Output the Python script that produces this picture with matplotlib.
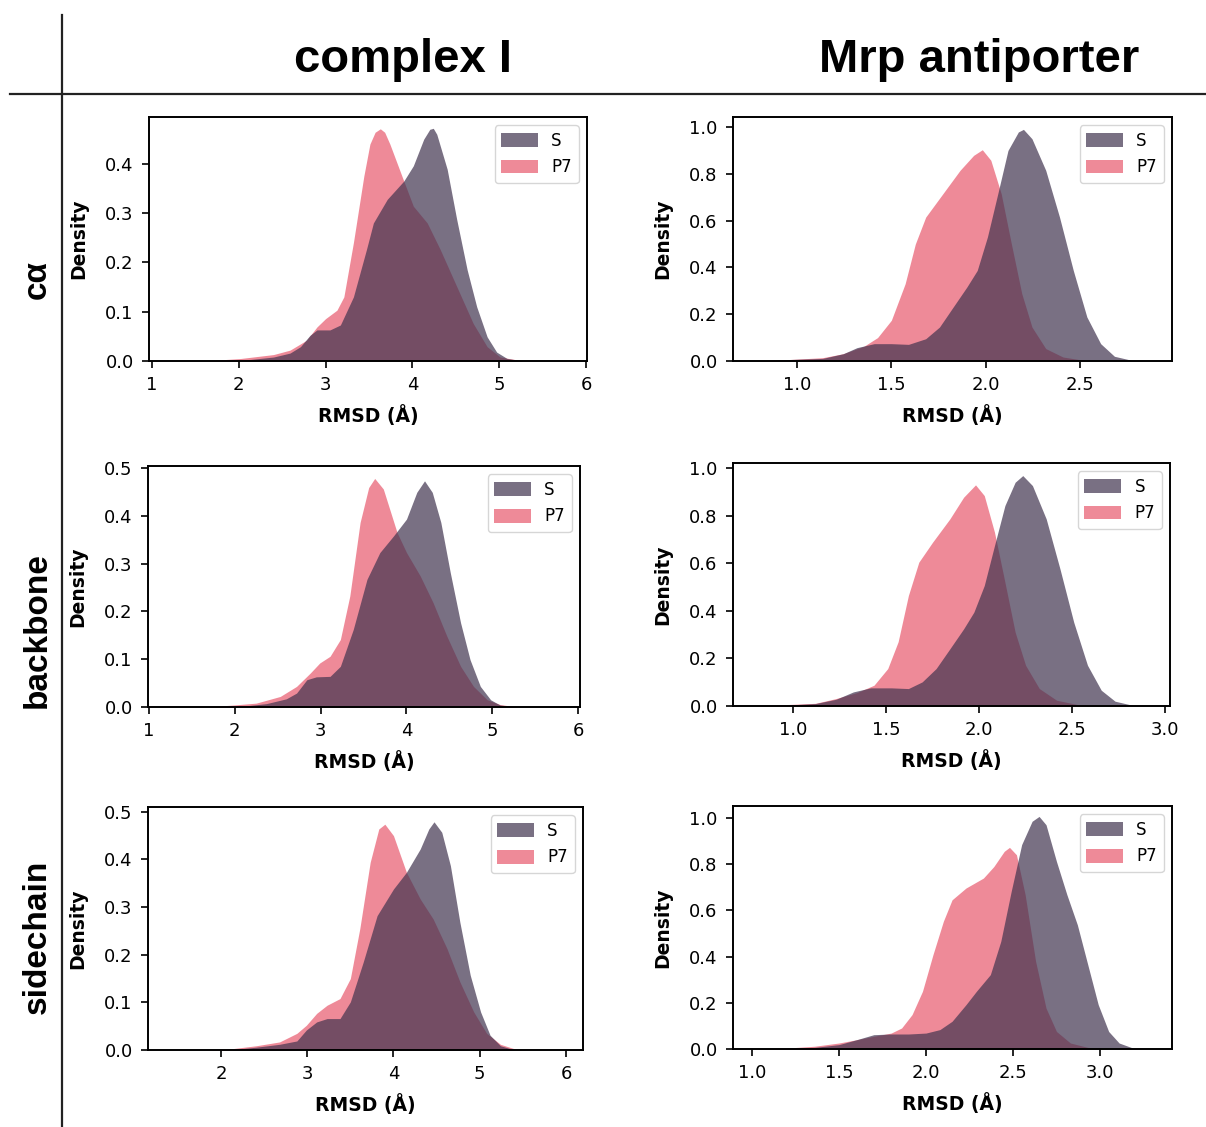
import matplotlib
matplotlib.use("Agg")
import matplotlib.pyplot as plt

# colours of the two states
s_color = '#40334f'
p7_color = '#e8586d'

# ---- complex I, c-alpha ----
ci_ca_p7_x = [1.60, 2.02, 2.40, 2.59, 2.78, 2.90, 3.00, 3.13, 3.21, 3.32, 3.44, 3.51, 3.57, 3.63,
              3.68, 3.74, 3.90, 4.01, 4.17, 4.32, 4.51, 4.70, 4.86, 5.01, 5.28]
ci_ca_p7_y = [0.0, 0.005, 0.013, 0.022, 0.042, 0.069, 0.086, 0.103, 0.13, 0.24, 0.375, 0.44, 0.464, 0.471,
              0.464, 0.44, 0.365, 0.314, 0.28, 0.226, 0.151, 0.076, 0.029, 0.008, 0.0]
ci_ca_s_x = [1.80, 2.02, 2.40, 2.59, 2.71, 2.82, 2.90, 3.05, 3.17, 3.32, 3.47, 3.55, 3.71, 3.90,
             4.01, 4.13, 4.20, 4.24, 4.28, 4.40, 4.51, 4.63, 4.74, 4.86, 4.97, 5.09, 5.28]
ci_ca_s_y = [0.0, 0.001, 0.008, 0.016, 0.029, 0.052, 0.063, 0.063, 0.073, 0.13, 0.226, 0.28, 0.328, 0.365,
             0.396, 0.45, 0.470, 0.472, 0.46, 0.389, 0.287, 0.185, 0.11, 0.049, 0.018, 0.005, 0.0]

# ---- Mrp antiporter, c-alpha ----
mrp_ca_p7_x = [0.77, 0.955, 1.136, 1.245, 1.355, 1.427, 1.50, 1.573, 1.627, 1.682, 1.773, 1.864,
               1.936, 1.982, 2.027, 2.082, 2.136, 2.191, 2.245, 2.318, 2.409, 2.518, 2.70]
mrp_ca_p7_y = [0.0, 0.006, 0.014, 0.031, 0.063, 0.10, 0.174, 0.33, 0.50, 0.615, 0.715, 0.815,
               0.879, 0.903, 0.858, 0.715, 0.50, 0.288, 0.145, 0.053, 0.017, 0.003, 0.0]
mrp_ca_s_x = [0.77, 0.955, 1.136, 1.245, 1.318, 1.409, 1.50, 1.591, 1.682, 1.755, 1.827, 1.90, 1.955,
              2.009, 2.064, 2.118, 2.173, 2.20, 2.245, 2.318, 2.391, 2.464, 2.536, 2.609, 2.682,
              2.773, 2.86]
mrp_ca_s_y = [0.0, 0.006, 0.011, 0.031, 0.057, 0.074, 0.074, 0.071, 0.095, 0.145, 0.23, 0.316, 0.387,
              0.53, 0.715, 0.90, 0.979, 0.99, 0.95, 0.815, 0.615, 0.387, 0.188, 0.074, 0.02,
              0.003, 0.0]

# ---- complex I, backbone ----
ci_bb_p7_x = [1.67, 1.98, 2.25, 2.53, 2.72, 2.88, 2.99, 3.11, 3.23, 3.34, 3.46, 3.56, 3.63, 3.73,
              3.89, 4.00, 4.16, 4.31, 4.47, 4.63, 4.78, 4.94, 5.09, 5.29]
ci_bb_p7_y = [0.0, 0.004, 0.008, 0.022, 0.043, 0.071, 0.092, 0.106, 0.141, 0.232, 0.386, 0.459, 0.478, 0.456,
              0.365, 0.323, 0.274, 0.218, 0.148, 0.085, 0.043, 0.015, 0.005, 0.0]
ci_bb_s_x = [1.80, 2.06, 2.37, 2.60, 2.72, 2.84, 2.95, 3.11, 3.23, 3.38, 3.54, 3.69, 3.85, 4.00,
             4.12, 4.21, 4.30, 4.40, 4.51, 4.63, 4.74, 4.86, 4.98, 5.09, 5.29]
ci_bb_s_y = [0.0, 0.001, 0.007, 0.017, 0.029, 0.057, 0.063, 0.064, 0.085, 0.162, 0.267, 0.323, 0.358, 0.393,
             0.449, 0.473, 0.449, 0.386, 0.281, 0.176, 0.099, 0.043, 0.015, 0.004, 0.0]

# ---- Mrp antiporter, backbone ----
mrp_bb_p7_x = [0.79, 0.972, 1.12, 1.231, 1.343, 1.435, 1.509, 1.565, 1.62, 1.676, 1.75, 1.843,
               1.917, 1.981, 2.028, 2.083, 2.139, 2.194, 2.25, 2.324, 2.417, 2.528, 2.68]
mrp_bb_p7_y = [0.0, 0.006, 0.011, 0.031, 0.056, 0.087, 0.157, 0.27, 0.464, 0.604, 0.688, 0.786,
               0.877, 0.929, 0.884, 0.73, 0.52, 0.31, 0.171, 0.073, 0.024, 0.006, 0.0]
mrp_bb_s_x = [0.79, 0.972, 1.12, 1.231, 1.324, 1.417, 1.528, 1.62, 1.694, 1.769, 1.843, 1.917, 1.972,
              2.028, 2.083, 2.139, 2.194, 2.235, 2.287, 2.361, 2.435, 2.509, 2.583, 2.657, 2.731,
              2.824, 2.92]
mrp_bb_s_y = [0.0, 0.004, 0.01, 0.028, 0.059, 0.076, 0.076, 0.073, 0.101, 0.157, 0.24, 0.324, 0.394,
              0.506, 0.674, 0.842, 0.94, 0.968, 0.926, 0.786, 0.576, 0.352, 0.171, 0.066, 0.02,
              0.003, 0.0]

# ---- complex I, sidechain ----
ci_sc_p7_x = [1.83, 2.14, 2.41, 2.68, 2.88, 2.99, 3.11, 3.23, 3.38, 3.50, 3.61, 3.73, 3.83, 3.90,
              4.00, 4.15, 4.31, 4.46, 4.62, 4.77, 4.93, 5.08, 5.24, 5.43, 5.60]
ci_sc_p7_y = [0.0, 0.003, 0.009, 0.017, 0.035, 0.052, 0.077, 0.094, 0.108, 0.15, 0.255, 0.394, 0.464, 0.474,
              0.45, 0.373, 0.317, 0.275, 0.213, 0.143, 0.08, 0.035, 0.012, 0.001, 0.0]
ci_sc_s_x = [1.95, 2.14, 2.41, 2.68, 2.88, 2.99, 3.11, 3.23, 3.38, 3.50, 3.65, 3.81, 4.00, 4.15,
             4.31, 4.41, 4.47, 4.56, 4.66, 4.77, 4.89, 5.01, 5.12, 5.24, 5.39, 5.55]
ci_sc_s_y = [0.0, 0.001, 0.006, 0.012, 0.019, 0.042, 0.059, 0.066, 0.066, 0.101, 0.185, 0.282, 0.338, 0.373,
             0.422, 0.464, 0.479, 0.457, 0.387, 0.268, 0.157, 0.08, 0.031, 0.009, 0.001, 0.0]

# ---- Mrp antiporter, sidechain ----
mrp_sc_p7_x = [1.00, 1.20, 1.36, 1.50, 1.60, 1.70, 1.80, 1.86, 1.92, 1.98, 2.04, 2.10, 2.15, 2.23,
               2.33, 2.39, 2.45, 2.48, 2.52, 2.57, 2.63, 2.69, 2.75, 2.83, 2.93, 3.05]
mrp_sc_p7_y = [0.0, 0.004, 0.012, 0.026, 0.04, 0.055, 0.069, 0.091, 0.149, 0.25, 0.408, 0.553, 0.646, 0.697,
               0.74, 0.79, 0.856, 0.873, 0.841, 0.668, 0.38, 0.177, 0.076, 0.026, 0.007, 0.0]
mrp_sc_s_x = [1.00, 1.20, 1.36, 1.50, 1.60, 1.70, 1.80, 1.90, 2.00, 2.08, 2.15, 2.23, 2.29, 2.37,
              2.43, 2.49, 2.55, 2.61, 2.65, 2.69, 2.75, 2.81, 2.87, 2.93, 2.99, 3.05, 3.11, 3.19, 3.26]
mrp_sc_s_y = [0.0, 0.003, 0.007, 0.019, 0.04, 0.062, 0.065, 0.065, 0.069, 0.084, 0.12, 0.192, 0.25, 0.322,
              0.466, 0.683, 0.885, 0.986, 1.007, 0.971, 0.812, 0.668, 0.538, 0.365, 0.192, 0.076, 0.026,
              0.004, 0.0]

col_titles = ['complex I', 'Mrp antiporter']
row_titles = ['c\u03b1', 'backbone', 'sidechain']
x_label = 'RMSD (\u00c5)'
y_label = 'Density'

panels = [
    # (series, axes rect, xlim, ylim, yticks)
    ((ci_ca_s_x, ci_ca_s_y, ci_ca_p7_x, ci_ca_p7_y), [0.1235, 0.6797, 0.3632, 0.2165],
     (0.965, 6.01), (0, 0.495), [0, 0.1, 0.2, 0.3, 0.4]),
    ((mrp_ca_s_x, mrp_ca_s_y, mrp_ca_p7_x, mrp_ca_p7_y), [0.6078, 0.6797, 0.3640, 0.2165],
     (0.661, 2.987), (0, 1.043), [0, 0.2, 0.4, 0.6, 0.8, 1.0]),
    ((ci_bb_s_x, ci_bb_s_y, ci_bb_p7_x, ci_bb_p7_y), [0.1227, 0.3727, 0.3582, 0.2138],
     (0.99, 6.02), (0, 0.504), [0, 0.1, 0.2, 0.3, 0.4, 0.5]),
    ((mrp_bb_s_x, mrp_bb_s_y, mrp_bb_p7_x, mrp_bb_p7_y), [0.6078, 0.3736, 0.3624, 0.2156],
     (0.677, 3.027), (0, 1.021), [0, 0.2, 0.4, 0.6, 0.8, 1.0]),
    ((ci_sc_s_x, ci_sc_s_y, ci_sc_p7_x, ci_sc_p7_y), [0.1227, 0.0683, 0.3607, 0.2156],
     (1.154, 6.197), (0, 0.51), [0, 0.1, 0.2, 0.3, 0.4, 0.5]),
    ((mrp_sc_s_x, mrp_sc_s_y, mrp_sc_p7_x, mrp_sc_p7_y), [0.6078, 0.0692, 0.3640, 0.2156],
     (0.891, 3.414), (0, 1.052), [0, 0.2, 0.4, 0.6, 0.8, 1.0]),
]

fig = plt.figure(figsize=(12.06, 11.27), dpi=100)

for (sx, sy, px, py), rect, xl, yl, yt in panels:
    ax = fig.add_axes(rect)
    # P7 first, S drawn over it
    hp = ax.fill_between(px, py, 0, color=p7_color, alpha=0.7, linewidth=0, label='P7')
    hs = ax.fill_between(sx, sy, 0, color=s_color, alpha=0.7, linewidth=0, label='S')
    ax.set_xlim(*xl)
    ax.set_ylim(*yl)
    ax.set_yticks(yt)
    ax.set_xlabel(x_label, fontsize=13.5, fontweight='bold', labelpad=8)
    ax.set_ylabel(y_label, fontsize=13.5, fontweight='bold', labelpad=12)
    ax.tick_params(labelsize=13, width=1.2, length=5, pad=6)
    for sp in ax.spines.values():
        sp.set_linewidth(1.4)
    ax.legend([hs, hp], ['S', 'P7'], loc='upper right', fontsize=12,
              handlelength=2.2, handleheight=0.9)

# column / row headings
fig.text(0.334, 0.947, col_titles[0], fontsize=34, fontweight='bold',
         family='Liberation Sans', ha='center', va='center')
fig.text(0.812, 0.947, col_titles[1], fontsize=34, fontweight='bold',
         family='Liberation Sans', ha='center', va='center')
for yy, t in zip([0.752, 0.441, 0.169], row_titles):
    fig.text(0.031, yy, t, fontsize=24, fontweight='bold', family='Liberation Sans',
             rotation=90, ha='center', va='center')

# table lines
fig.add_artist(plt.Line2D([0.0083, 1.0], [1 - 94 / 1127, 1 - 94 / 1127],
                          color='#222222', linewidth=1.6, transform=fig.transFigure))
fig.add_artist(plt.Line2D([62 / 1206, 62 / 1206], [0.0, 1 - 15 / 1127],
                          color='#222222', linewidth=1.6, transform=fig.transFigure))

fig.savefig('out.png', dpi=100)
